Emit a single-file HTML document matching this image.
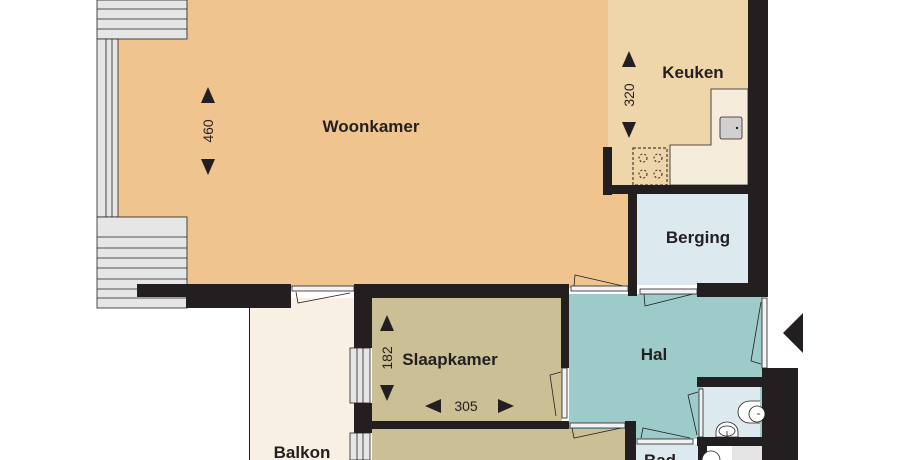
<!DOCTYPE html>
<html><head><meta charset="utf-8"><style>
html,body{margin:0;padding:0;background:#fff;width:905px;height:460px;overflow:hidden}
svg{display:block}
text{font-family:"Liberation Sans",sans-serif;fill:#231f20}
.l{font-weight:bold;font-size:17px}
.d{font-size:14px}
</style></head><body>
<svg width="905" height="460" viewBox="0 0 905 460" xmlns="http://www.w3.org/2000/svg">
<!-- fills -->
<rect x="118" y="0" width="512" height="288" fill="#efc48f"/>
<rect x="608" y="0" width="142" height="187" fill="#efd5aa"/>
<polygon points="711,89 748,89 748,185 670,185 670,145 711,145" fill="#f6ecdc" stroke="#231f20" stroke-width="0.8"/>
<rect x="720" y="117" width="22" height="22" rx="2" fill="#d0d0d0" stroke="#231f20" stroke-width="0.8"/>
<circle cx="737" cy="128" r="1.2" fill="#231f20"/>
<rect x="633" y="148" width="34" height="37" fill="none" stroke="#231f20" stroke-width="1" stroke-dasharray="3,2"/>
<g fill="none" stroke="#231f20" stroke-width="1" stroke-dasharray="2,2"><circle cx="643" cy="158" r="4"/><circle cx="658" cy="158" r="4"/><circle cx="643" cy="174" r="4"/><circle cx="658" cy="174" r="4"/></g>
<rect x="637" y="193" width="113" height="92" fill="#dceaf0"/>
<rect x="569" y="294" width="193" height="145" fill="#9dcbc9"/>
<rect x="697" y="376" width="65" height="63" fill="#9dcbc9"/>
<rect x="703" y="387" width="57" height="50" fill="#dceaf0"/>
<rect x="636" y="444" width="62" height="16" fill="#dceaf0"/>
<rect x="732" y="446" width="30" height="14" fill="#e5e5e5"/>
<rect x="372" y="298" width="190" height="124" fill="#cbbf96"/>
<rect x="372" y="429" width="254" height="31" fill="#cbbf96"/>
<rect x="249" y="298" width="105" height="162" fill="#f9f0e4"/>
<line x1="249.5" y1="308" x2="249.5" y2="460" stroke="#231f20" stroke-width="1"/>
<!-- left windows -->
<g fill="#e6e6e6" stroke="#231f20" stroke-width="0.8">
<rect x="97" y="0" width="90" height="39"/>
<line x1="97" y1="9" x2="187" y2="9"/><line x1="97" y1="19" x2="187" y2="19"/><line x1="97" y1="29" x2="187" y2="29"/>
<rect x="97" y="39" width="21" height="178"/>
<line x1="106" y1="39" x2="106" y2="217"/><line x1="112" y1="39" x2="112" y2="217"/>
<rect x="97" y="217" width="90" height="91"/>
<line x1="97" y1="237" x2="187" y2="237"/><line x1="97" y1="248" x2="187" y2="248"/><line x1="97" y1="258" x2="187" y2="258"/><line x1="97" y1="268" x2="187" y2="268"/><line x1="97" y1="279" x2="187" y2="279"/><line x1="97" y1="289" x2="187" y2="289"/><line x1="97" y1="298" x2="187" y2="298"/>
<rect x="350" y="348" width="20" height="55"/><line x1="357" y1="348" x2="357" y2="403"/><line x1="363" y1="348" x2="363" y2="403"/>
<rect x="350" y="433" width="20" height="27"/><line x1="357" y1="433" x2="357" y2="460"/><line x1="363" y1="433" x2="363" y2="460"/>
</g>
<!-- walls -->
<g fill="#231f20">
<rect x="137" y="284" width="60" height="13"/>
<rect x="186" y="284" width="105" height="24"/>
<rect x="354" y="284" width="215" height="14"/>
<rect x="354" y="284" width="18" height="64"/>
<rect x="354" y="403" width="18" height="30"/>
<rect x="355" y="421" width="214" height="8"/>
<rect x="561" y="284" width="8" height="84"/>
<rect x="625" y="421" width="11" height="39"/>
<rect x="603" y="147" width="9" height="48"/>
<rect x="603" y="185" width="165" height="9"/>
<rect x="628" y="185" width="9" height="111"/>
<rect x="748" y="0" width="20" height="297"/>
<rect x="697" y="283" width="71" height="14"/>
<rect x="762" y="368" width="36" height="92"/>
<rect x="697" y="377" width="73" height="10"/>
<rect x="697" y="437" width="73" height="9"/>
<rect x="698" y="446" width="9" height="14"/>
<polygon points="803,313 803,353 783,333"/>
</g>
<g fill="#f2f2f2" stroke="#231f20" stroke-width="0.8">
<rect x="292" y="286" width="62" height="5"/>
<rect x="571" y="286" width="57" height="5"/>
<rect x="640" y="289" width="57" height="5"/>
<rect x="762" y="298" width="5" height="70"/>
<rect x="562" y="368" width="5" height="50"/>
<rect x="570" y="423" width="55" height="5"/>
<rect x="637" y="439" width="56" height="5"/>
<rect x="699" y="389" width="4" height="48"/>
</g>
<g fill="none" stroke="#231f20" stroke-width="0.8">
<polyline points="296,292 298,303 350,293"/>
<polyline points="623,286 575,275 574,286"/>
<polyline points="693,294 645,306 644,294"/>
<polyline points="761,302 751,361 761,364"/>
<polyline points="561,372 550,375 556,416"/>
<polyline points="621,428 574,438 572,428"/>
<polyline points="690,438 643,428 641,438"/>
<polyline points="698,392 688,395 697,435"/>
<path d="M760,401 h-10 a12,11 0 0 0 0,22 h10" fill="#fff"/>
<circle cx="757" cy="414" r="8" fill="#fff"/>
<line x1="757" y1="414" x2="760" y2="414"/>
<path d="M716,437 v-5 a11,10 0 0 1 22,0 v5 z" fill="#fff"/>
<ellipse cx="727" cy="431" rx="8" ry="5" fill="#fff"/>
<line x1="727" y1="431" x2="727" y2="437"/>
<path d="M702,460 a9,9 0 0 1 18,0" fill="#fff"/>
</g>
<text class="l" x="371" y="132" text-anchor="middle">Woonkamer</text>
<text class="l" x="693" y="78" text-anchor="middle">Keuken</text>
<text class="l" x="698" y="243" text-anchor="middle">Berging</text>
<text class="l" x="654" y="360" text-anchor="middle">Hal</text>
<text class="l" x="450" y="365" text-anchor="middle">Slaapkamer</text>
<text class="l" x="302" y="458" text-anchor="middle">Balkon</text>
<text class="l" x="660" y="466" text-anchor="middle">Bad</text>
<g fill="#231f20">
<polygon points="208,87 215,103 201,103"/><polygon points="208,175 215,159 201,159"/>
<polygon points="629,51 636,67 622,67"/><polygon points="629,138 636,122 622,122"/>
<polygon points="387,315 394,331 380,331"/><polygon points="387,401 394,385 380,385"/>
<polygon points="425,406 441,399 441,413"/><polygon points="514,406 498,399 498,413"/>
</g>
<text class="d" transform="translate(213,131) rotate(-90)" text-anchor="middle">460</text>
<text class="d" transform="translate(634,95) rotate(-90)" text-anchor="middle">320</text>
<text class="d" transform="translate(392,358) rotate(-90)" text-anchor="middle">182</text>
<text class="d" x="466" y="411" text-anchor="middle">305</text>
</svg>
</body></html>
